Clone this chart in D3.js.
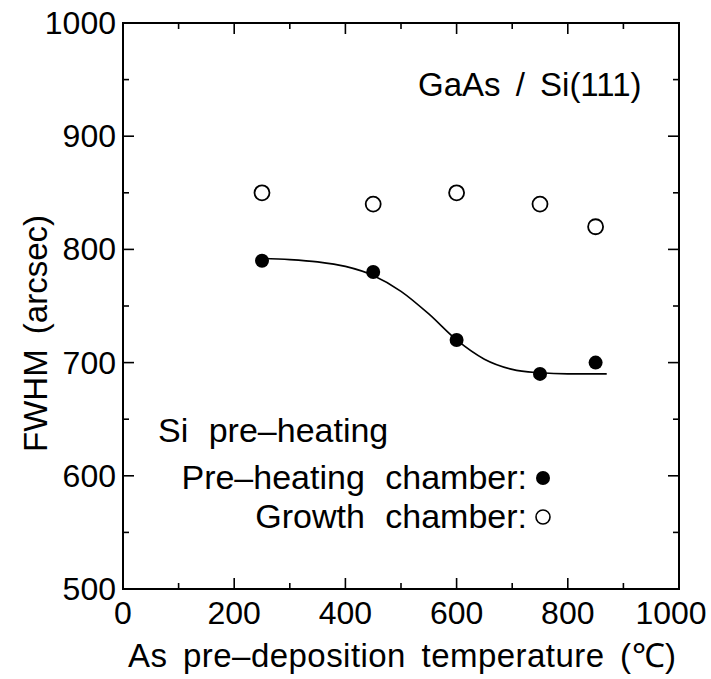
<!DOCTYPE html>
<html lang="en">
<head>
    <script src="https://d3js.org/d3.v7.min.js"></script>
    <style>
        body { margin: 0; background: #fff; }
        text { font-family: "Liberation Sans", Arial, sans-serif; fill: #000; }
        .frame { fill: none; stroke: #000; stroke-width: 2px; }
        .fit { fill: none; stroke: #000; stroke-width: 1.6px; }
        .note { font-size: 33px; word-spacing: 6px; }
        .legend { font-size: 34px; word-spacing: 11px; }
    </style>
</head>
<body>
    <div id="chart"></div>

    <script>
        // Data
        const temps = [250, 450, 600, 750, 850];
        const preHeating = [790, 780, 720, 690, 700];   // filled circles
        const growth = [850, 840, 850, 840, 820];       // open circles

        // guide curve through the filled points (hand-drawn in the original)
        const curveX = [250, 300, 350, 400, 450, 500, 550, 600, 650, 700, 750, 800, 870];
        const curveY = [792, 791, 789, 785, 777, 763, 743, 720, 703, 694, 691, 690, 690];

        const xTicks = [0, 200, 400, 600, 800, 1000];
        const yTicks = [500, 600, 700, 800, 900, 1000];

        const width = 711, height = 679;
        const margin = { top: 23, right: 32, bottom: 90, left: 123 };

        const svg = d3.select('#chart')
            .append('svg')
            .attr('width', width)
            .attr('height', height);

        const x = d3.scaleLinear().domain([0, 1000]).range([margin.left, width - margin.right]);
        const y = d3.scaleLinear().domain([500, 1000]).range([height - margin.bottom, margin.top]);

        const x0 = x.range()[0], x1 = x.range()[1];
        const y0 = y.range()[0], y1 = y.range()[1];

        // Inward ticks on all four sides: long on labelled values, short in between
        const tickG = svg.append('g').attr('stroke', '#000').attr('stroke-width', 1.6);
        d3.range(100, 1000, 100).forEach(v => {
            const len = v % 200 === 0 ? 11 : 6;
            tickG.append('line').attr('x1', x(v)).attr('x2', x(v)).attr('y1', y0).attr('y2', y0 - len);
            tickG.append('line').attr('x1', x(v)).attr('x2', x(v)).attr('y1', y1).attr('y2', y1 + len);
        });
        d3.range(550, 1000, 50).forEach(v => {
            const len = v % 100 === 0 ? 11 : 6;
            tickG.append('line').attr('y1', y(v)).attr('y2', y(v)).attr('x1', x0).attr('x2', x0 + len);
            tickG.append('line').attr('y1', y(v)).attr('y2', y(v)).attr('x1', x1).attr('x2', x1 - len);
        });

        svg.append('rect')
            .attr('class', 'frame')
            .attr('x', x0).attr('y', y1)
            .attr('width', x1 - x0).attr('height', y0 - y1);

        // Tick labels (the last x label is pulled in so it stays on the page)
        svg.append('g').selectAll('text')
            .data(xTicks)
            .enter().append('text')
            .attr('x', d => Math.min(x(d), width - 40))
            .attr('y', y0 + 35)
            .attr('text-anchor', 'middle')
            .style('font-size', '32px')
            .text(d => d);

        svg.append('g').selectAll('text')
            .data(yTicks)
            .enter().append('text')
            .attr('x', x0 - 7)
            .attr('y', d => y(d) + 11)
            .attr('text-anchor', 'end')
            .style('font-size', '32px')
            .text(d => d);

        // Axis titles
        svg.append('text')
            .attr('class', 'note')
            .attr('x', 128)
            .attr('y', 667)
            .attr('textLength', 548)
            .attr('lengthAdjust', 'spacing')
            .text('As pre\u2013deposition temperature (\u2103)');

        svg.append('text')
            .attr('class', 'note')
            .attr('transform', 'translate(47, 452) rotate(-90)')
            .text('FWHM (arcsec)');

        // Fit curve
        const line = d3.line()
            .x((d, i) => x(curveX[i]))
            .y(d => y(d))
            .curve(d3.curveMonotoneX);

        svg.append('path')
            .datum(curveY)
            .attr('class', 'fit')
            .attr('d', line);

        // Points
        svg.append('g').selectAll('circle')
            .data(temps)
            .enter().append('circle')
            .attr('cx', d => x(d))
            .attr('cy', (d, i) => y(growth[i]))
            .attr('r', 7.5)
            .attr('fill', '#fff')
            .attr('stroke', '#000')
            .attr('stroke-width', 1.8);

        svg.append('g').selectAll('circle')
            .data(temps)
            .enter().append('circle')
            .attr('cx', d => x(d))
            .attr('cy', (d, i) => y(preHeating[i]))
            .attr('r', 7)
            .attr('fill', '#000');

        // Annotations
        svg.append('text')
            .attr('class', 'note')
            .attr('x', 418)
            .attr('y', 96)
            .text('GaAs / Si(111)');

        svg.append('text')
            .attr('class', 'legend')
            .attr('x', 158)
            .attr('y', 442)
            .text('Si pre\u2013heating');

        svg.append('text')
            .attr('class', 'legend')
            .attr('x', 527)
            .attr('y', 489)
            .attr('text-anchor', 'end')
            .text('Pre\u2013heating chamber:');

        svg.append('text')
            .attr('class', 'legend')
            .attr('x', 527)
            .attr('y', 528)
            .attr('text-anchor', 'end')
            .text('Growth chamber:');

        svg.append('circle')
            .attr('cx', 543).attr('cy', 478).attr('r', 7).attr('fill', '#000');
        svg.append('circle')
            .attr('cx', 543).attr('cy', 517).attr('r', 7)
            .attr('fill', '#fff').attr('stroke', '#000').attr('stroke-width', 1.6);
    </script>
</body>
</html>
